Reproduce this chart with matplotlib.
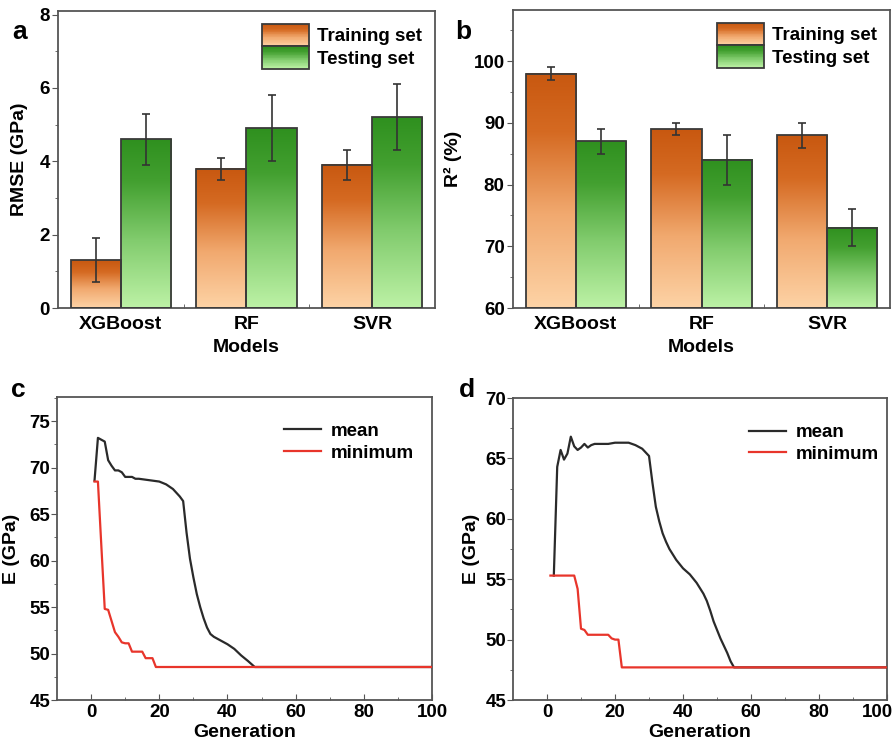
import matplotlib
matplotlib.use('Agg')
import matplotlib.pyplot as plt
import numpy as np
from matplotlib.colors import LinearSegmentedColormap
from matplotlib.legend_handler import HandlerBase
from matplotlib.patches import Rectangle, Patch
from matplotlib.ticker import MultipleLocator, FixedLocator
from matplotlib.transforms import ScaledTranslation

plt.rcParams['font.family'] = ['Liberation Sans', 'DejaVu Sans']
plt.rcParams['font.weight'] = 'bold'

# ---- data ----
models = ['XGBoost', 'RF', 'SVR']
rmse_train = [1.3, 3.8, 3.9]
rmse_train_err = [0.6, 0.3, 0.4]
rmse_test = [4.6, 4.9, 5.2]
rmse_test_err = [0.7, 0.9, 0.9]

r2_train = [98, 89, 88]
r2_train_err = [1, 1, 2]
r2_test = [87, 84, 73]
r2_test_err = [2, 4, 3]

gen_c_mean = [1, 2, 3, 4, 5, 6, 7, 8, 9, 10, 11, 12, 13, 14, 16, 18, 20, 22, 24, 25, 26, 27,
              28, 29, 30, 31, 32, 33, 34, 35, 36, 38, 40, 42, 44, 46, 48, 100]
e_c_mean = [68.6, 73.2, 73.0, 72.8, 70.8, 70.2, 69.7, 69.7, 69.5, 69.0, 69.0, 69.0, 68.8, 68.8,
            68.7, 68.6, 68.5, 68.2, 67.7, 67.3, 66.9, 66.4, 63.0, 60.2, 58.2, 56.4, 55.0, 53.8,
            52.8, 52.1, 51.8, 51.4, 51.0, 50.5, 49.8, 49.2, 48.55, 48.55]
gen_c_min = [1, 2, 3, 4, 5, 6, 7, 8, 9, 10, 11, 12, 13, 14, 15, 16, 17, 18, 19, 100]
e_c_min = [68.5, 68.5, 61.6, 54.8, 54.7, 53.5, 52.3, 51.8, 51.2, 51.1, 51.1, 50.2, 50.2, 50.2,
           50.2, 49.5, 49.5, 49.5, 48.55, 48.55]

gen_d_mean = [2, 3, 4, 5, 6, 7, 8, 9, 10, 11, 12, 13, 14, 16, 18, 20, 22, 24, 26, 28, 29, 30,
              31, 32, 33, 34, 35, 36, 38, 40, 42, 44, 46, 47, 48, 49, 50, 51, 52, 53, 54, 55, 100]
e_d_mean = [55.3, 64.3, 65.7, 64.9, 65.4, 66.8, 66.0, 65.7, 65.9, 66.2, 65.9, 66.1, 66.2, 66.2,
            66.2, 66.3, 66.3, 66.3, 66.1, 65.8, 65.5, 65.2, 63.0, 61.0, 59.8, 58.8, 58.1, 57.5,
            56.6, 55.9, 55.4, 54.7, 53.8, 53.2, 52.4, 51.5, 50.8, 50.1, 49.5, 48.9, 48.2, 47.7, 47.7]
gen_d_min = [1, 8, 9, 10, 11, 12, 18, 19, 20, 21, 22, 100]
e_d_min = [55.3, 55.3, 54.2, 50.9, 50.8, 50.4, 50.4, 50.1, 50.0, 50.0, 47.7, 47.7]

orange = LinearSegmentedColormap.from_list('orange', [(0, '#fdd3a6'), (0.4, '#f1a96f'),
                                                      (0.75, '#d56a22'), (1, '#c85810')])
green = LinearSegmentedColormap.from_list('green', [(0, '#bdf2a6'), (0.4, '#82cc6e'),
                                                    (0.75, '#43a030'), (1, '#2f901f')])
edge = '#3a3a3a'
spine_col = '#555555'


class GradHandler(HandlerBase):
    def __init__(self, cmap):
        super().__init__()
        self.cmap = cmap

    def create_artists(self, legend, orig_handle, xdescent, ydescent, width, height, fontsize, trans):
        arts = []
        n = 30
        for k in range(n):
            c = self.cmap(1 - (k + 0.5) / n)
            arts.append(Rectangle((-xdescent, -ydescent + height * (n - 1 - k) / n), width, height / n,
                                  fc=c, ec='none', transform=trans))
        arts.append(Rectangle((-xdescent, -ydescent), width, height, fc='none', ec=edge, lw=1.3,
                              transform=trans))
        return arts


def grad_bars(ax, x, vals, errs, cmap, bottom):
    bars = ax.bar(x, np.array(vals) - bottom, width=0.4, bottom=bottom, fc='none', ec=edge,
                  lw=1.3, zorder=3)
    grad = np.linspace(0, 1, 256).reshape(-1, 1)
    for b in bars:
        x0, y0 = b.get_x(), b.get_y()
        ax.imshow(grad, extent=[x0, x0 + b.get_width(), y0, y0 + b.get_height()], origin='lower',
                  aspect='auto', cmap=cmap, zorder=2)
    ax.errorbar(x, vals, yerr=errs, fmt='none', ecolor='#333333', elinewidth=1.2, capsize=3,
                capthick=1.2, zorder=4)


def style(ax):
    for s in ax.spines.values():
        s.set_color(spine_col)
        s.set_linewidth(1.3)


def bar_panel(ax, train, terr, test, teerr, bottom, ylim, major, minor, ylabel):
    x = np.arange(1, len(models) + 1)
    grad_bars(ax, x - 0.2, train, terr, orange, bottom)
    grad_bars(ax, x + 0.2, test, teerr, green, bottom)
    ax.set_xlim(0.5, 3.5)
    ax.set_ylim(*ylim)
    ax.set_xticks(x)
    ax.set_xticklabels(models, fontsize=14, fontweight='bold')
    ax.xaxis.set_minor_locator(FixedLocator([1.5, 2.5]))
    ax.tick_params(axis='x', which='major', length=0, pad=6)
    ax.tick_params(axis='x', which='minor', direction='in', length=3, color=spine_col)
    ax.yaxis.set_major_locator(MultipleLocator(major))
    ax.yaxis.set_minor_locator(MultipleLocator(minor))
    ax.tick_params(axis='y', which='major', length=4, labelsize=13.5, color=spine_col, pad=2)
    ax.tick_params(axis='y', which='minor', length=2.5, color=spine_col)
    ax.set_xlabel('Models', fontsize=14, fontweight='bold', labelpad=4)
    ax.set_ylabel(ylabel, fontsize=14, fontweight='bold', labelpad=8)
    style(ax)
    h1 = Patch(label='Training set')
    h2 = Patch(label='Testing set')
    ax.legend(handles=[h1, h2], handler_map={h1: GradHandler(orange), h2: GradHandler(green)},
              loc='upper right', frameon=False, handlelength=2.5, handleheight=1.45,
              labelspacing=0.0, handletextpad=0.4, borderaxespad=0.3,
              prop={'weight': 'bold', 'size': 13.5})


def line_panel(ax, gm, em, gn, en, ylim, anchor, ylabelpad):
    ax.plot(gm, em, color='#2a2a2a', lw=1.6, label='mean', zorder=3)
    ax.plot(gn, en, color='#e8352b', lw=1.6, label='minimum', zorder=3)
    ax.set_xlim(-10, 100)
    ax.set_ylim(*ylim)
    ax.set_xticks([0, 20, 40, 60, 80, 100])
    ax.xaxis.set_minor_locator(FixedLocator([10, 30, 50, 70, 90]))
    ax.yaxis.set_major_locator(MultipleLocator(5))
    ax.yaxis.set_minor_locator(MultipleLocator(2.5))
    ax.tick_params(axis='x', which='major', direction='in', length=4, labelsize=13.5, color=spine_col, pad=3)
    ax.tick_params(axis='x', which='minor', direction='in', length=2.5, color=spine_col)
    ax.tick_params(axis='y', which='major', length=4, labelsize=13.5, color=spine_col, pad=1)
    ax.tick_params(axis='y', which='minor', length=2.5, color=spine_col)
    ax.set_xlabel('Generation', fontsize=14, fontweight='bold', labelpad=2)
    ax.set_ylabel('E (GPa)', fontsize=14, fontweight='bold', labelpad=ylabelpad)
    style(ax)
    ax.legend(loc='upper left', bbox_to_anchor=anchor, frameon=False, handlelength=2.0,
              handletextpad=0.5, labelspacing=0.25, prop={'weight': 'bold', 'size': 13.5})


fig = plt.figure(figsize=(8.95, 7.42), dpi=100)
ax_a = fig.add_axes([0.0648, 0.5849, 0.4212, 0.4003])
ax_b = fig.add_axes([0.5732, 0.5849, 0.4212, 0.4016])
ax_c = fig.add_axes([0.0637, 0.0566, 0.4190, 0.4084])
ax_d = fig.add_axes([0.5732, 0.0566, 0.4179, 0.4070])

bar_panel(ax_a, rmse_train, rmse_train_err, rmse_test, rmse_test_err, 0, (0, 8.1), 2, 1, 'RMSE (GPa)')
bar_panel(ax_b, r2_train, r2_train_err, r2_test, r2_test_err, 60, (60, 108.3), 10, 5, 'R² (%)')
line_panel(ax_c, gen_c_mean, e_c_mean, gen_c_min, e_c_min, (45, 77.6), (0.56, 0.97), 7)
line_panel(ax_d, gen_d_mean, e_d_mean, gen_d_min, e_d_min, (45, 70), (0.585, 0.97), 4)

# last x tick label of panel d sits slightly left of its tick, as in the figure
lbl = ax_d.xaxis.get_major_ticks()[-1].label1
lbl.set_transform(lbl.get_transform() + ScaledTranslation(-10 / 100, 0, fig.dpi_scale_trans))

for lab, (px, py) in zip('abcd', [(20, 32), (463, 32), (18, 390), (467, 390)]):
    fig.text(px / 895, 1 - py / 742, lab, fontsize=19, fontweight='bold', ha='center', va='center')

fig.savefig('out.png', dpi=100)
